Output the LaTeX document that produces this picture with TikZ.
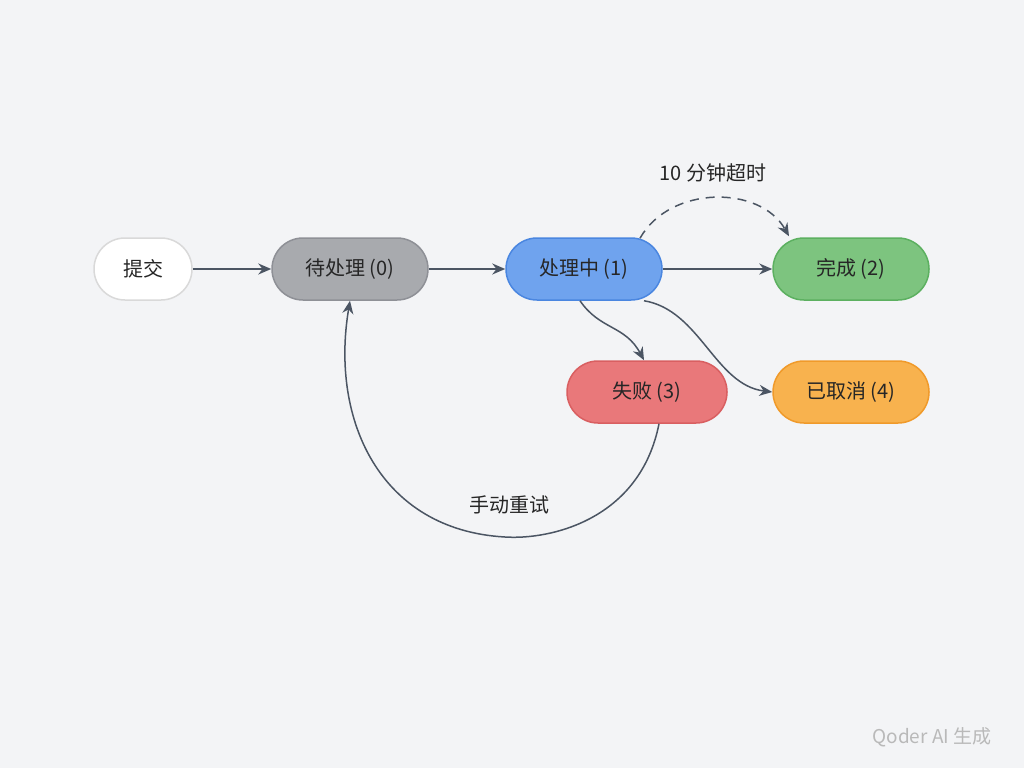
\documentclass[tikz,border=0pt]{standalone}
\usepackage{fontspec}
\setmainfont{Noto Sans CJK SC}
\usetikzlibrary{arrows.meta}
\definecolor{bg}{HTML}{F3F4F6}
\definecolor{ln}{HTML}{4B5563}
\definecolor{g0}{HTML}{A8AAAE}
\definecolor{g0d}{HTML}{8E9096}
\begin{document}
\begin{tikzpicture}[x=1pt,y=-1pt,
  st/.style={draw, line width=1.5pt, rounded corners=31pt, minimum height=62pt, inner sep=0pt, font=\fontsize{20}{24}\selectfont, text=black!85},
  ar/.style={draw=ln, line width=1.5pt, -{Stealth[length=13pt,width=11pt]}}]
\fill[bg] (0,0) rectangle (1024,768);
\node[st, minimum width=98pt, fill=white, draw=gray!30] (s) at (143,269) {提交};
\node[st, minimum width=156pt, fill=g0, draw=g0d] (p0) at (350,269) {待处理 (0)};
\node[st, minimum width=156pt, fill={rgb,255:red,111;green,163;blue,238}, draw={rgb,255:red,74;green,134;blue,224}] (p1) at (584,269) {处理中 (1)};
\node[st, minimum width=156pt, fill={rgb,255:red,125;green,196;blue,127}, draw={rgb,255:red,92;green,176;blue,96}] (p2) at (851,269) {完成 (2)};
\node[st, minimum width=160pt, fill={rgb,255:red,233;green,120;blue,122}, draw={rgb,255:red,217;green,95;blue,97}] (p3) at (647,392) {失败 (3)};
\node[st, minimum width=156pt, fill={rgb,255:red,248;green,178;blue,78}, draw={rgb,255:red,240;green,154;blue,42}] (p4) at (851,392) {已取消 (4)};
\draw[ar] (s) -- (p0);
\draw[ar] (p0) -- (p1);
\draw[ar] (p1) -- (p2);
\draw[ar, dash pattern=on 9pt off 7pt] ([xshift=56pt,yshift=-1pt]p1.north) .. controls (670,185) and (760,185) .. ([xshift=-62pt,yshift=1pt]p2.north);
\node[font=\fontsize{20}{24}\selectfont, text=black!85] (t1) at (713,173) {10 分钟超时};
\draw[ar] ([xshift=-4pt]p1.south) .. controls (600,330) and (625,325) .. ([xshift=-3pt]p3.north);
\draw[ar] ([xshift=60pt]p1.south) .. controls (700,310) and (715,385) .. (p4.west);
\draw[ar] ([xshift=12pt]p3.south) .. controls (640,520) and (550,540) .. (505,537) .. controls (380,530) and (330,420) .. (p0.south);
\node[font=\fontsize{20}{24}\selectfont, text=black!85] (t2) at (509,505) {手动重试};
\node[font=\fontsize{19}{22}\selectfont, text=gray!55] (w) at (932,737) {Qoder AI 生成};
\end{tikzpicture}
\end{document}
